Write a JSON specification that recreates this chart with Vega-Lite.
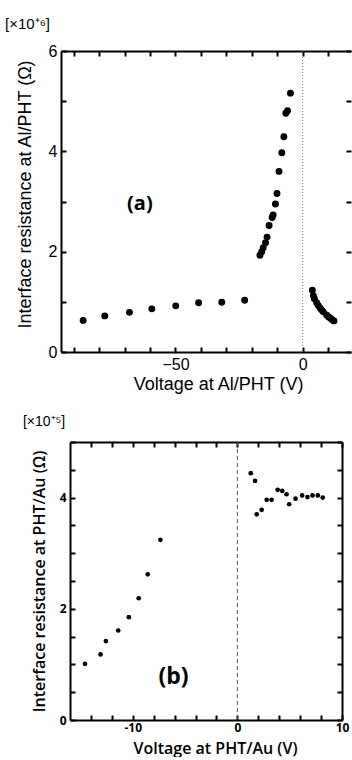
{
  "$schema": "https://vega.github.io/schema/vega-lite/v6.json",
  "background": "white",
  "padding": {"left": 5, "top": 16, "right": 0, "bottom": 1},
  "spacing": 21,
  "config": {
    "view": {"stroke": null},
    "axis": {
      "grid": false,
      "domainColor": "black",
      "domainWidth": 2,
      "tickColor": "black",
      "tickWidth": 2,
      "tickSize": -5,
      "labelColor": "black",
      "titleColor": "black",
      "labelOverlap": false,
      "labelFlush": false
    }
  },
  "datasets": {
    "a_pts": [
      {"V": -86.3, "R": 0.63}, {"V": -77.8, "R": 0.72}, {"V": -68.1, "R": 0.79}, {"V": -59.3, "R": 0.86},
      {"V": -49.9, "R": 0.92}, {"V": -40.9, "R": 0.98}, {"V": -31.8, "R": 0.99}, {"V": -22.8, "R": 1.03},
      {"V": -16.8, "R": 1.93}, {"V": -16.1, "R": 2.0}, {"V": -15.5, "R": 2.08}, {"V": -14.6, "R": 2.18},
      {"V": -14.0, "R": 2.29}, {"V": -13.2, "R": 2.52}, {"V": -12.0, "R": 2.68}, {"V": -11.6, "R": 2.73},
      {"V": -10.7, "R": 2.95}, {"V": -10.1, "R": 3.16}, {"V": -9.3, "R": 3.6}, {"V": -8.2, "R": 3.97},
      {"V": -7.4, "R": 4.29}, {"V": -6.6, "R": 4.76}, {"V": -5.95, "R": 4.81}, {"V": -4.8, "R": 5.16},
      {"V": 3.8, "R": 1.23}, {"V": 4.2, "R": 1.12}, {"V": 4.6, "R": 1.06}, {"V": 5.5, "R": 0.98},
      {"V": 6.1, "R": 0.93}, {"V": 6.8, "R": 0.88}, {"V": 7.4, "R": 0.84}, {"V": 8.1, "R": 0.8},
      {"V": 9.4, "R": 0.74}, {"V": 10.2, "R": 0.7}, {"V": 11.0, "R": 0.67}, {"V": 11.7, "R": 0.64},
      {"V": 12.3, "R": 0.62}
    ],
    "b_pts": [
      {"V": -14.57, "R": 1.01}, {"V": -13.08, "R": 1.18}, {"V": -12.57, "R": 1.42}, {"V": -11.39, "R": 1.61},
      {"V": -10.38, "R": 1.85}, {"V": -9.43, "R": 2.19}, {"V": -8.57, "R": 2.62}, {"V": -7.36, "R": 3.24},
      {"V": 1.28, "R": 4.44}, {"V": 1.69, "R": 4.3}, {"V": 1.85, "R": 3.7}, {"V": 2.32, "R": 3.78},
      {"V": 2.8, "R": 3.96}, {"V": 3.27, "R": 3.96}, {"V": 3.85, "R": 4.14}, {"V": 4.29, "R": 4.12},
      {"V": 4.7, "R": 4.06}, {"V": 4.95, "R": 3.88}, {"V": 5.56, "R": 3.98}, {"V": 6.19, "R": 4.04},
      {"V": 6.7, "R": 4.01}, {"V": 7.18, "R": 4.04}, {"V": 7.69, "R": 4.04}, {"V": 8.16, "R": 4.0}
    ],
    "zero": [{"v": 0}],
    "a_lbl": [{"t": "(a)", "x": -64, "y": 2.96}],
    "a_unit": [{"t": "[×10⁺⁶]", "x": -117.0, "y": 6.44}],
    "b_lbl": [{"t": "(b)", "x": -6.1, "y": 0.77}],
    "b_unit": [{"t": "[×10⁺⁵]", "x": -20.5, "y": 5.29}]
  },
  "vconcat": [
    {
      "width": 290,
      "height": 301,
      "resolve": {"axis": {"x": "independent", "y": "independent"}},
      "layer": [
        {
          "data": {"name": "zero"},
          "mark": {"type": "rule", "color": "#777777", "strokeWidth": 1, "strokeDash": [1, 2]},
          "encoding": {
            "x": {"field": "v", "type": "quantitative", "scale": {"domain": [-95, 19], "nice": false, "zero": false}, "axis": null}
          }
        },
        {
          "data": {"name": "a_pts"},
          "mark": {"type": "circle", "size": 48, "color": "black", "opacity": 1},
          "encoding": {
            "x": {
              "field": "V", "type": "quantitative",
              "scale": {"domain": [-95, 19], "nice": false, "zero": false},
              "axis": {
                "orient": "bottom",
                "values": [-90, -80, -70, -60, -50, -40, -30, -20, -10, 0, 10],
                "labelExpr": "datum.value % 50 == 0 ? datum.label : ''",
                "labelFont": "Liberation Sans", "labelFontSize": 16, "labelPadding": 9,
                "title": "Voltage at Al/PHT (V)",
                "titleFont": "Liberation Sans", "titleFontSize": 18, "titleFontWeight": "normal",
                "titlePadding": 3, "titleX": 157
              }
            },
            "y": {
              "field": "R", "type": "quantitative",
              "scale": {"domain": [0, 6], "nice": false, "zero": false},
              "axis": {
                "orient": "left",
                "values": [0, 1, 2, 3, 4, 5, 6],
                "labelExpr": "datum.value % 2 == 0 ? datum.label : ''",
                "labelFont": "Liberation Sans", "labelFontSize": 16, "labelPadding": 9,
                "title": "Interface resistance at Al/PHT (Ω)",
                "titleFont": "Liberation Sans", "titleFontSize": 18, "titleFontWeight": "normal",
                "titlePadding": 14, "titleY": 143
              }
            }
          }
        },
        {
          "data": {"name": "a_lbl"},
          "mark": {"type": "text", "font": "Open Sans", "fontWeight": "bold", "fontSize": 20, "align": "center", "baseline": "middle", "color": "black"},
          "encoding": {
            "x": {
              "field": "x", "type": "quantitative",
              "scale": {"domain": [-95, 19], "nice": false, "zero": false},
              "axis": {"orient": "top", "values": [-90, -80, -70, -60, -50, -40, -30, -20, -10, 0, 10], "labels": false, "title": null}
            },
            "y": {
              "field": "y", "type": "quantitative",
              "scale": {"domain": [0, 6], "nice": false, "zero": false},
              "axis": {"orient": "right", "values": [0, 1, 2, 3, 4, 5, 6], "labels": false, "domain": false, "title": null}
            },
            "text": {"field": "t", "type": "nominal"}
          }
        },
        {
          "data": {"name": "a_unit"},
          "mark": {"type": "text", "font": "Liberation Sans", "fontSize": 15, "align": "left", "baseline": "alphabetic", "color": "black"},
          "encoding": {
            "x": {"field": "x", "type": "quantitative", "scale": {"domain": [-95, 19], "nice": false, "zero": false}, "axis": null},
            "y": {"field": "y", "type": "quantitative", "scale": {"domain": [0, 6], "nice": false, "zero": false}, "axis": null},
            "text": {"field": "t", "type": "nominal"}
          }
        }
      ]
    },
    {
      "width": 281,
      "height": 278,
      "resolve": {"axis": {"x": "independent", "y": "independent"}},
      "layer": [
        {
          "data": {"name": "zero"},
          "mark": {"type": "rule", "color": "#555555", "strokeWidth": 1, "strokeDash": [4, 3]},
          "encoding": {
            "x": {"field": "v", "type": "quantitative", "scale": {"domain": [-16, 10], "range": [9, 281], "nice": false, "zero": false}, "axis": null}
          }
        },
        {
          "data": {"name": "b_pts"},
          "mark": {"type": "circle", "size": 22, "color": "black", "opacity": 1},
          "encoding": {
            "x": {
              "field": "V", "type": "quantitative",
              "scale": {"domain": [-16, 10], "range": [9, 281], "nice": false, "zero": false},
              "axis": {
                "orient": "bottom",
                "values": [-14, -12, -10, -8, -6, -4, -2, 0, 2, 4, 6, 8, 10],
                "labelExpr": "datum.value % 10 == 0 ? toString(datum.value) : ''",
                "labelFont": "Open Sans", "labelFontWeight": "bold", "labelFontSize": 12, "labelPadding": 7,
                "title": "Voltage at PHT/Au (V)",
                "titleFont": "Open Sans", "titleFontSize": 16, "titleFontWeight": 600,
                "titlePadding": 7, "titleX": 154
              }
            },
            "y": {
              "field": "R", "type": "quantitative",
              "scale": {"domain": [0, 5], "nice": false, "zero": false},
              "axis": {
                "orient": "left", "offset": -9,
                "values": [0, 0.5, 1, 1.5, 2, 2.5, 3, 3.5, 4, 4.5, 5],
                "labelExpr": "datum.value % 2 == 0 ? toString(datum.value) : ''",
                "labelFont": "Open Sans", "labelFontWeight": "bold", "labelFontSize": 12, "labelPadding": 9,
                "title": "Interface resistance at PHT/Au (Ω)",
                "titleFont": "Open Sans", "titleFontSize": 16, "titleFontWeight": 600,
                "titlePadding": 12
              }
            }
          }
        },
        {
          "data": {"name": "b_lbl"},
          "mark": {"type": "text", "font": "Open Sans", "fontWeight": "bold", "fontSize": 23, "align": "center", "baseline": "middle", "color": "black"},
          "encoding": {
            "x": {
              "field": "x", "type": "quantitative",
              "scale": {"domain": [-16, 10], "range": [9, 281], "nice": false, "zero": false},
              "axis": {"orient": "top", "values": [-14, -12, -10, -8, -6, -4, -2, 0, 2, 4, 6, 8, 10], "labels": false, "title": null}
            },
            "y": {
              "field": "y", "type": "quantitative",
              "scale": {"domain": [0, 5], "nice": false, "zero": false},
              "axis": {"orient": "right", "values": [0, 0.5, 1, 1.5, 2, 2.5, 3, 3.5, 4, 4.5, 5], "labels": false, "title": null}
            },
            "text": {"field": "t", "type": "nominal"}
          }
        },
        {
          "data": {"name": "b_unit"},
          "mark": {"type": "text", "font": "Liberation Sans", "fontSize": 14, "align": "left", "baseline": "alphabetic", "color": "black"},
          "encoding": {
            "x": {"field": "x", "type": "quantitative", "scale": {"domain": [-16, 10], "range": [9, 281], "nice": false, "zero": false}, "axis": null},
            "y": {"field": "y", "type": "quantitative", "scale": {"domain": [0, 5], "nice": false, "zero": false}, "axis": null},
            "text": {"field": "t", "type": "nominal"}
          }
        }
      ]
    }
  ]
}
